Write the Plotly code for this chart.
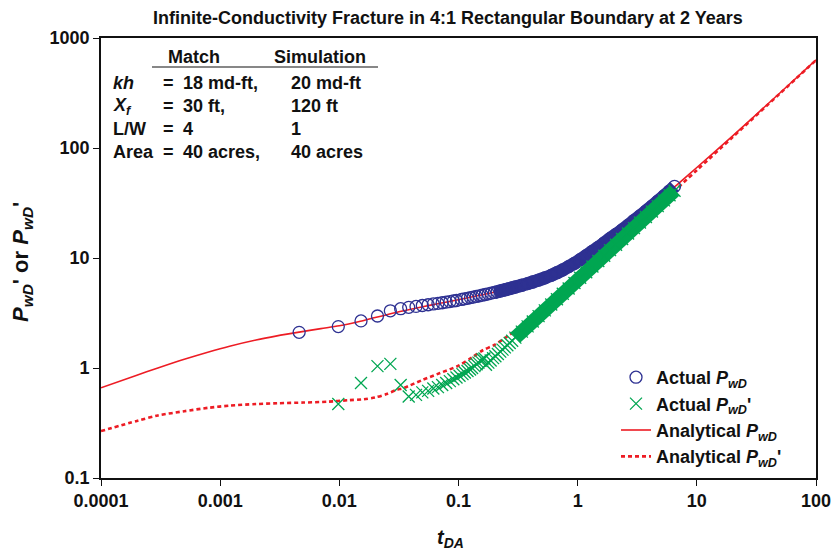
import plotly.graph_objects as go

# ---------------- data ----------------
# Actual P_wD (simulation), blue open circles
t_pwd = [0.0046, 0.0098, 0.0152, 0.0209, 0.0268, 0.0327, 0.0382, 0.0440, 0.0497, 0.0556,
         0.0615, 0.0672, 0.0730, 0.0788, 0.0846, 0.0905, 0.0962,
         0.106, 0.112, 0.119, 0.126, 0.133, 0.141, 0.150, 0.158, 0.168, 0.178, 0.188, 0.200,
         0.211, 0.224, 0.237, 0.251, 0.266, 0.282,
         0.30, 0.34, 0.38, 0.42, 0.47, 0.53, 0.60, 0.67, 0.75, 0.84, 0.94, 1.05, 1.18, 1.33,
         1.49, 1.67, 1.87, 2.10, 2.36, 2.65, 2.97, 3.33, 3.74, 4.20, 4.70, 5.30, 5.90, 6.50]
pwd = [2.11, 2.38, 2.68, 2.97, 3.31, 3.46, 3.56, 3.63, 3.70, 3.76,
       3.82, 3.87, 3.92, 3.97, 4.02, 4.07, 4.11,
       4.20, 4.25, 4.30, 4.36, 4.41, 4.47, 4.53, 4.59, 4.66, 4.72, 4.79, 4.86,
       4.93, 5.01, 5.09, 5.17, 5.26, 5.35,
       5.45, 5.65, 5.85, 6.05, 6.30, 6.60, 6.95, 7.35, 7.80, 8.35, 8.95, 9.65, 10.5, 11.5,
       12.5, 13.7, 15.0, 16.4, 18.0, 19.8, 21.9, 24.1, 26.7, 29.6, 32.8, 36.6, 40.6, 44.8]

# Actual P_wD' (simulation derivative), green crosses
t_dpwd = [0.0098, 0.0152, 0.0209, 0.0268, 0.0327, 0.0382, 0.0440,
          0.0497, 0.0556, 0.0615, 0.0672, 0.0730, 0.0788, 0.0846, 0.0905, 0.0962,
          0.102, 0.108, 0.113, 0.119, 0.125, 0.130, 0.136, 0.142, 0.147, 0.153, 0.159, 0.165,
          0.170, 0.178, 0.186, 0.195, 0.204, 0.214, 0.224, 0.234, 0.245, 0.257, 0.269, 0.282,
          0.30, 0.34, 0.38, 0.42, 0.47, 0.53, 0.60, 0.67, 0.75, 0.84, 0.94, 1.05, 1.18, 1.33,
          1.49, 1.67, 1.87, 2.10, 2.36, 2.65, 2.97, 3.33, 3.74, 4.20, 4.70, 5.30, 5.90, 6.50]
dpwd = [0.47, 0.73, 1.04, 1.09, 0.70, 0.55, 0.57,
        0.60, 0.62, 0.65, 0.67, 0.70, 0.73, 0.76, 0.79, 0.82,
        0.85, 0.88, 0.91, 0.94, 0.97, 1.00, 1.04, 1.08, 1.12, 1.16, 1.20, 1.22,
        1.07, 1.12, 1.17, 1.23, 1.28, 1.34, 1.41, 1.47, 1.54, 1.61, 1.69, 1.77,
        1.89, 2.14, 2.39, 2.65, 2.96, 3.34, 3.78, 4.22, 4.73, 5.29, 5.92, 6.62, 7.43, 8.38,
        9.39, 10.5, 11.8, 13.2, 14.9, 16.7, 18.7, 21.0, 23.6, 26.5, 29.6, 33.4, 37.2, 40.9]

# Analytical P_wD, red solid line
t_an = [0.0001, 0.0002, 0.0003, 0.0005, 0.0008, 0.0012, 0.002, 0.003, 0.0046, 0.007,
        0.01, 0.015, 0.02, 0.03, 0.05, 0.07, 0.1, 0.15, 0.2, 0.3,
        0.5, 0.7, 1, 1.5, 2, 3, 5, 7, 10, 20, 50, 100]
pwd_an = [0.66, 0.86, 1.0, 1.2, 1.4, 1.58, 1.8, 1.96, 2.12, 2.28,
          2.42, 2.66, 2.88, 3.2, 3.6, 3.88, 4.17, 4.58, 4.88, 5.45,
          6.45, 7.55, 9.3, 12.6, 15.8, 22.1, 34.7, 47.5, 66.5, 129, 318, 632]

# Analytical P_wD', red dotted line
t_dan = [0.0001, 0.0002, 0.0003, 0.0005, 0.0008, 0.0012, 0.002, 0.003, 0.005, 0.008,
         0.012, 0.016, 0.02, 0.025, 0.03, 0.035, 0.05, 0.07, 0.1, 0.13,
         0.16, 0.2, 0.25, 0.35, 0.5, 0.7, 1, 2, 5, 10, 20, 50, 100]
dpwd_an = [0.267, 0.33, 0.37, 0.405, 0.435, 0.455, 0.47, 0.478, 0.485, 0.494,
           0.51, 0.52, 0.54, 0.58, 0.63, 0.66, 0.78, 0.9, 1.05, 1.25,
           1.45, 1.62, 1.9, 2.45, 3.3, 4.5, 6.4, 12.6, 31.4, 62.8, 125.7, 314, 628]

x_tickvals = [0.0001, 0.001, 0.01, 0.1, 1, 10, 100]
x_ticktext = ["0.0001", "0.001", "0.01", "0.1", "1", "10", "100"]
y_tickvals = [0.1, 1, 10, 100, 1000]
y_ticktext = ["0.1", "1", "10", "100", "1000"]

title_text = "Infinite-Conductivity Fracture in 4:1 Rectangular Boundary at 2 Years"
table_rows = [
    ("<i>kh</i>", "18 md-ft,", "20 md-ft"),
    ("<i>X<sub>f</sub></i>", "30 ft,", "120 ft"),
    ("L/W", "4", "1"),
    ("Area", "40 acres,", "40 acres"),
]

# ---------------- styling ----------------
BLUE = "#2E3192"
GREEN = "#00A651"
RED = "#ED1C24"
FONT = "Liberation Sans, Arial, sans-serif"

W, H = 832, 550
L, R, T, B = 101, 16, 38, 72
PW, PH = W - L - R, H - T - B


def px(x):
    return (x - L) / PW


def py(y):
    return (H - B - y) / PH


fig = go.Figure()

# analytical curves (drawn beneath the markers)
fig.add_trace(go.Scatter(x=t_an, y=pwd_an, mode="lines", name="<b>Analytical <i>P<sub>wD</sub></i></b>",
                         line=dict(color=RED, width=1.6, shape="spline", smoothing=0.8), legendrank=3))
fig.add_trace(go.Scatter(x=t_dan, y=dpwd_an, mode="lines", name="<b>Analytical <i>P<sub>wD</sub></i>'</b>",
                         line=dict(color=RED, width=2.6, dash="4px,3px", shape="spline", smoothing=0.8),
                         legendrank=4))

# dense part of the simulated data forms a solid band
bi = [i for i, t in enumerate(t_pwd) if t >= 0.2]
fig.add_trace(go.Scatter(x=[t_pwd[i] for i in bi], y=[pwd[i] for i in bi], mode="lines",
                         line=dict(color=BLUE, width=13, shape="spline", smoothing=0.8),
                         showlegend=False, hoverinfo="skip"))
fig.add_trace(go.Scatter(x=t_pwd, y=pwd, mode="markers", name="<b>Actual <i>P<sub>wD</sub></i></b>",
                         marker=dict(symbol="circle-open", size=12, color=BLUE,
                                     line=dict(color=BLUE, width=1.3)), legendrank=1))

gi = [i for i, t in enumerate(t_dpwd) if t >= 0.3]
fig.add_trace(go.Scatter(x=[t_dpwd[i] for i in gi], y=[dpwd[i] for i in gi], mode="lines",
                         line=dict(color=GREEN, width=14), showlegend=False, hoverinfo="skip"))
fig.add_trace(go.Scatter(x=t_dpwd, y=dpwd, mode="markers", name="<b>Actual <i>P<sub>wD</sub></i>'</b>",
                         marker=dict(symbol="x-thin-open", size=12, color=GREEN,
                                     line=dict(color=GREEN, width=1.3)), legendrank=2))

axis_common = dict(type="log", showgrid=False, zeroline=False, showline=True, mirror=True,
                   linecolor="#111", linewidth=1.6, ticks="outside", ticklen=6, tickwidth=1.4,
                   tickcolor="#111", tickfont=dict(family=FONT, size=18, color="#111", weight="bold"))

fig.update_layout(
    width=W, height=H,
    margin=dict(l=L, r=R, t=T, b=B, autoexpand=False),
    paper_bgcolor="white", plot_bgcolor="white",
    font=dict(family=FONT, color="#111"),
    xaxis=dict(range=[-4, 2], tickvals=x_tickvals, ticktext=x_ticktext, **axis_common),
    yaxis=dict(range=[-1, 3], tickvals=y_tickvals, ticktext=y_ticktext, **axis_common),
    legend=dict(x=px(616), y=py(359), xanchor="left", yanchor="top", bgcolor="rgba(0,0,0,0)",
                font=dict(family=FONT, size=18, color="#111"), traceorder="normal",
                itemwidth=30, tracegroupgap=0),
    showlegend=True,
)

ann = []
ann.append(dict(text="<b>" + title_text + "</b>", x=px(448), y=py(18), xref="paper", yref="paper",
                showarrow=False, xanchor="center", yanchor="middle",
                font=dict(family=FONT, size=18, color="#111")))
# axis titles
ann.append(dict(text="<b><i>t<sub>DA</sub></i></b>", x=px(450), y=py(538), xref="paper", yref="paper",
                showarrow=False, xanchor="center", yanchor="middle",
                font=dict(family=FONT, size=20, color="#111")))
ann.append(dict(text="<b><i>P<sub>wD</sub></i>' or <i>P<sub>wD</sub></i>'</b>", x=px(22), y=py(262),
                xref="paper", yref="paper", showarrow=False, textangle=-90,
                xanchor="center", yanchor="middle", font=dict(family=FONT, size=22, color="#111")))
# match / simulation table
tf = dict(family=FONT, size=18, color="#111")
ann.append(dict(text="<b>Match</b>", x=px(194), y=py(57), xref="paper", yref="paper", showarrow=False,
                xanchor="center", yanchor="middle", font=tf))
ann.append(dict(text="<b>Simulation</b>", x=px(320), y=py(57), xref="paper", yref="paper",
                showarrow=False, xanchor="center", yanchor="middle", font=tf))
row_y = [83, 106, 129, 152]
for (lab, m, s), yy in zip(table_rows, row_y):
    ann.append(dict(text="<b>" + lab + "</b>", x=px(111), y=py(yy), xref="paper", yref="paper",
                    showarrow=False, xanchor="left", yanchor="middle", font=tf))
    ann.append(dict(text="<b>=</b>", x=px(161), y=py(yy), xref="paper", yref="paper",
                    showarrow=False, xanchor="left", yanchor="middle", font=tf))
    ann.append(dict(text="<b>" + m + "</b>", x=px(181), y=py(yy), xref="paper", yref="paper",
                    showarrow=False, xanchor="left", yanchor="middle", font=tf))
    ann.append(dict(text="<b>" + s + "</b>", x=px(289), y=py(yy), xref="paper", yref="paper",
                    showarrow=False, xanchor="left", yanchor="middle", font=tf))
fig.update_layout(annotations=ann)
fig.add_shape(type="line", xref="paper", yref="paper", x0=px(152), x1=px(378), y0=py(67), y1=py(67),
              line=dict(color="#111", width=1.2))

fig.write_html("out.html")
